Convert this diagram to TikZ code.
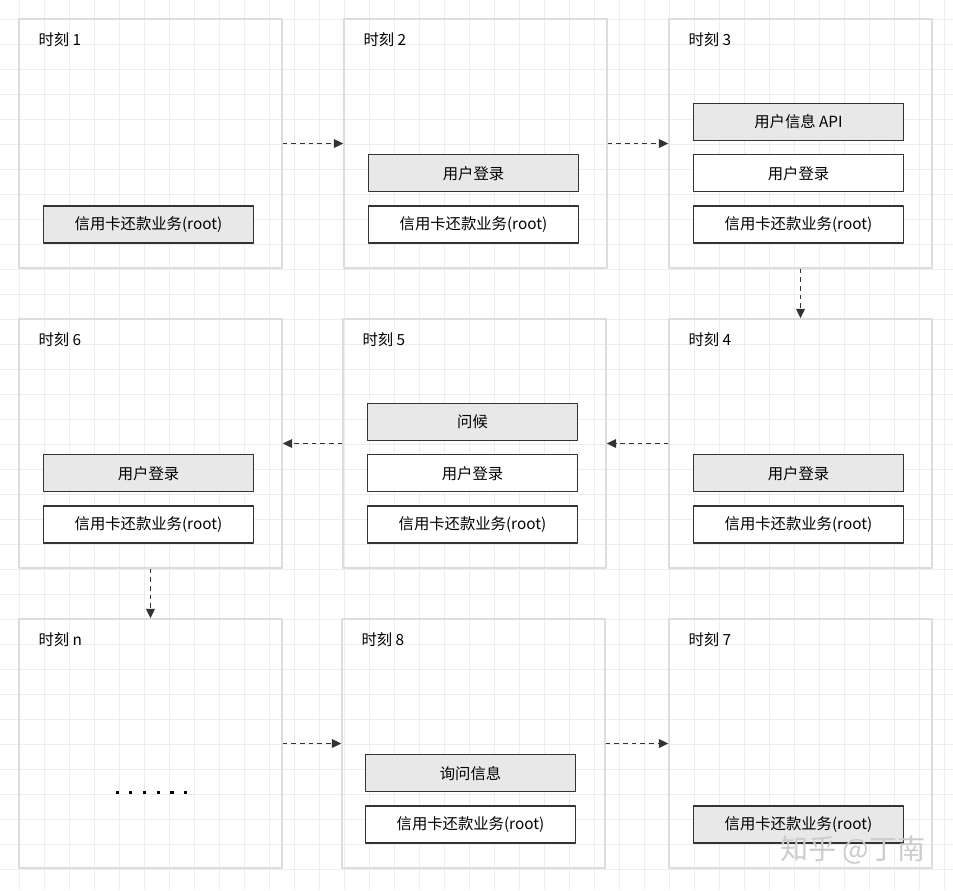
\documentclass[tikz,border=0pt]{standalone}
\usepackage{fontspec}
\setmainfont{Noto Sans CJK SC}
\usetikzlibrary{arrows.meta,positioning}
\definecolor{gridline}{HTML}{EDEDED}
\definecolor{panelline}{HTML}{DCDCDC}
\definecolor{boxline}{HTML}{333333}
\definecolor{boxfill}{HTML}{E8E8E8}
\tikzset{
  panel/.style={draw=panelline, line width=1.1pt, minimum width=197.25pt, minimum height=186.75pt, inner sep=0pt},
  block/.style={draw=boxline, line width=0.9pt, fill=white, minimum width=157.5pt, minimum height=27.75pt, inner sep=0pt},
  hot/.style={block, fill=boxfill},
  flow/.style={draw=boxline, line width=0.9pt, dash pattern=on 3.5pt off 3pt, -{Triangle[length=7pt,width=6.5pt]}},
}
\begin{document}
\begin{tikzpicture}[x=0.75pt, y=-0.75pt, font=\fontsize{11.5}{14}\selectfont, line join=round, node distance=9.75pt]
  \fill[white] (0,0) rectangle (953,890);
  \useasboundingbox (0,0) rectangle (953,890);
  % background grid
  \foreach \k in {0,...,37}
    \draw[gridline, line width=0.6pt] ({19+25*\k},0) -- ({19+25*\k},890);
  \foreach \k in {0,...,34}
    \draw[gridline, line width=0.6pt] (0,{19+25*\k}) -- (953,{19+25*\k});
  % panels
  \foreach \n/\x/\y/\t in {p1/150.5/143.5/1, p2/475.5/143.5/2, p3/800.5/143.5/3,
      p4/800.5/443.5/4, p5/474.5/443.5/5, p6/150.5/443.5/6,
      p7/800.5/743.5/7, p8/473.5/743.5/8, pn/150.5/743.5/n}{
    \node[panel] (\n) at (\x,\y) {};
    \node[anchor=west, inner sep=0pt] (\n-t) at ([shift={(20,21)}]\n.north west) {时刻 \t};
  }
  % time 1
  \node[hot] (r1) at ([shift={(-2,81)}]p1) {信用卡还款业务(root)};
  % time 2
  \node[block] (r2) at ([shift={(-2,81)}]p2) {信用卡还款业务(root)};
  \node[hot, above=of r2] (l2) {用户登录};
  % time 3
  \node[block] (r3) at ([shift={(-2,81)}]p3) {信用卡还款业务(root)};
  \node[block, above=of r3] (l3) {用户登录};
  \node[hot, above=of l3] (a3) {用户信息 API};
  % time 4
  \node[block] (r4) at ([shift={(-2,81)}]p4) {信用卡还款业务(root)};
  \node[hot, above=of r4] (l4) {用户登录};
  % time 5
  \node[block] (r5) at ([shift={(-2,81)}]p5) {信用卡还款业务(root)};
  \node[block, above=of r5] (l5) {用户登录};
  \node[hot, above=of l5] (g5) {问候};
  % time 6
  \node[block] (r6) at ([shift={(-2,81)}]p6) {信用卡还款业务(root)};
  \node[hot, above=of r6] (l6) {用户登录};
  % time 7
  \node[hot] (r7) at ([shift={(-2,81)}]p7) {信用卡还款业务(root)};
  % time 8
  \node[block] (r8) at ([shift={(-3,81)}]p8) {信用卡还款业务(root)};
  \node[hot, above=of r8] (q8) {询问信息};
  % time n
  \foreach \i in {0,...,5}
    \fill[black] ({115.5+13.7*\i},790.5) rectangle +(3.2,3.2);
  % transitions
  \foreach \a/\b in {p1/p2, p2/p3, p3/p4, p4/p5, p5/p6, p6/pn, pn/p8, p8/p7}
    \draw[flow] (\a) -- (\b);
  \node[text=gray!40, font=\fontsize{21}{21}\selectfont, inner sep=0pt] (mark) at (853,850) {知乎 @丁南};
\end{tikzpicture}
\end{document}
